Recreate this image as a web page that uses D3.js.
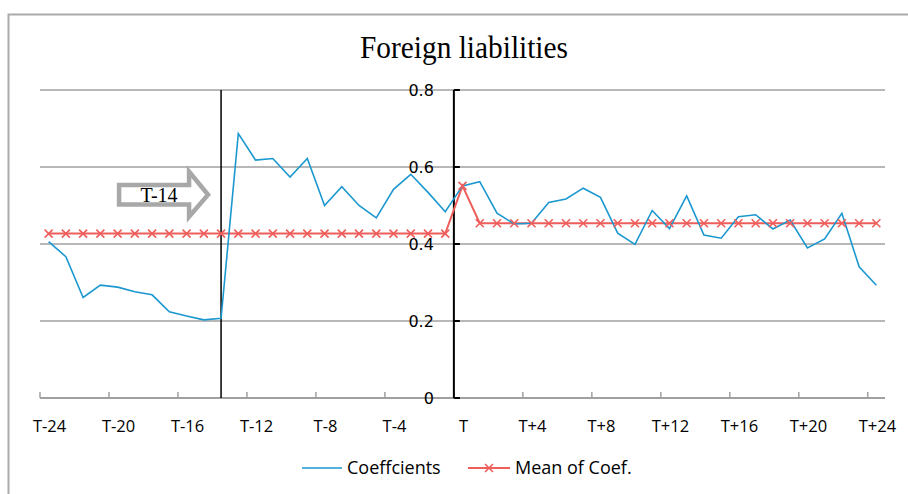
<!DOCTYPE html>
<html>
<head>
<meta charset="utf-8">
<script src="https://cdn.jsdelivr.net/npm/d3@7/dist/d3.min.js"></script>
<style>
  html, body { margin: 0; padding: 0; background: #fff; }
  svg { display: block; }
</style>
</head>
<body>
<svg id="chart" width="908" height="494"></svg>
<script>
// ---- data ----
const categories = [
  "T-24","T-23","T-22","T-21","T-20","T-19","T-18","T-17","T-16","T-15","T-14","T-13","T-12",
  "T-11","T-10","T-9","T-8","T-7","T-6","T-5","T-4","T-3","T-2","T-1","T",
  "T+1","T+2","T+3","T+4","T+5","T+6","T+7","T+8","T+9","T+10","T+11","T+12",
  "T+13","T+14","T+15","T+16","T+17","T+18","T+19","T+20","T+21","T+22","T+23","T+24"
];
const coefficients = [
  0.406,0.367,0.261,0.293,0.288,0.276,0.268,0.224,0.213,0.203,0.207,0.687,0.618,
  0.622,0.574,0.622,0.500,0.549,0.500,0.468,0.542,0.581,0.534,0.484,0.551,
  0.562,0.480,0.452,0.454,0.508,0.517,0.545,0.521,0.428,0.399,0.487,0.440,
  0.525,0.423,0.415,0.471,0.476,0.439,0.462,0.390,0.413,0.480,0.341,0.293
];
const meanOfCoef = [
  0.427,0.427,0.427,0.427,0.427,0.427,0.427,0.427,0.427,0.427,0.427,0.427,0.427,
  0.427,0.427,0.427,0.427,0.427,0.427,0.427,0.427,0.427,0.427,0.427,0.551,
  0.454,0.454,0.454,0.454,0.454,0.454,0.454,0.454,0.454,0.454,0.454,0.454,
  0.454,0.454,0.454,0.454,0.454,0.454,0.454,0.454,0.454,0.454,0.454,0.454
];
const tickLabels = ["T-24","T-20","T-16","T-12","T-8","T-4","T","T+4","T+8","T+12","T+16","T+20","T+24"];
const yTicks = [0, 0.2, 0.4, 0.6, 0.8];
const seriesNames = ["Coeffcients", "Mean of Coef."];
const titleText = "Foreign liabilities";
const eventLabel = "T-14";
const eventCategory = "T-14";
const axisCategory = "T";

// ---- layout ----
const svg = d3.select("#chart");
const blue = "#1B98CF", red = "#EE5E5B", grid = "#A0A0A0";
const x = d3.scaleBand().domain(categories).range([40, 885]).padding(0);
const y = d3.scaleLinear().domain([0, 0.8]).range([398, 90]);
const cx = c => x(c) + x.bandwidth() / 2;

// outer frame
svg.append("rect").attr("x", 8.5).attr("y", 14.5).attr("width", 1000).attr("height", 1000)
  .attr("fill", "none").attr("stroke", "#ABABAB").attr("stroke-width", 2);

// title
svg.append("text").attr("x", 464).attr("y", 58)
  .attr("text-anchor", "middle")
  .attr("font-family", "Liberation Serif, Times New Roman, serif")
  .attr("font-size", 31)
  .attr("textLength", 208).attr("lengthAdjust", "spacingAndGlyphs")
  .attr("fill", "#000").text(titleText);

// gridlines
svg.append("g").selectAll("line").data(yTicks.filter(d => d > 0)).join("line")
  .attr("x1", 40).attr("x2", 885)
  .attr("y1", d => y(d)).attr("y2", d => y(d))
  .attr("stroke", grid).attr("stroke-width", 1.5);

// x axis line & ticks (at category boundaries every 4)
svg.append("line").attr("x1", 40).attr("x2", 885).attr("y1", y(0)).attr("y2", y(0))
  .attr("stroke", grid).attr("stroke-width", 2);
const boundaryIdx = d3.range(0, categories.length, 4);
svg.append("g").selectAll("line").data(boundaryIdx).join("line")
  .attr("x1", i => x(categories[i])).attr("x2", i => x(categories[i]))
  .attr("y1", y(0)).attr("y2", y(0) - 6)
  .attr("stroke", grid).attr("stroke-width", 1.5);

// x tick labels
svg.append("g").selectAll("text").data(tickLabels).join("text")
  .attr("x", d => cx(d) + 1).attr("y", 432)
  .attr("text-anchor", "middle")
  .attr("font-family", "Open Sans, sans-serif").attr("font-size", 16.5)
  .attr("fill", "#000").text(d => d);

// vertical axis crossing between T-1 and T
const axX = x(axisCategory);
svg.append("line").attr("x1", axX).attr("x2", axX).attr("y1", y(0.8)).attr("y2", y(0))
  .attr("stroke", "#000").attr("stroke-width", 2);
svg.append("g").selectAll("line").data(yTicks).join("line")
  .attr("x1", axX).attr("x2", axX + 6)
  .attr("y1", d => y(d)).attr("y2", d => y(d))
  .attr("stroke", "#000").attr("stroke-width", 2);
svg.append("g").selectAll("text").data(yTicks).join("text")
  .attr("x", axX - 20).attr("y", d => y(d)).attr("dy", "0.36em")
  .attr("text-anchor", "end")
  .attr("font-family", "DejaVu Sans, sans-serif").attr("font-size", 16)
  .attr("fill", "#000").text(d => d === 0 ? "0" : d.toFixed(1));

// event line at T-14
const evX = cx(eventCategory);
svg.append("line").attr("x1", evX).attr("x2", evX).attr("y1", y(0.8)).attr("y2", y(0))
  .attr("stroke", "#000").attr("stroke-width", 1.5);

// arrow annotation
const ax0 = evX - 102, tip = evX - 13, headBase = evX - 32, cy = 194.8;
const arrowPath = `M${ax0},${cy - 9.8} L${headBase},${cy - 9.8} L${headBase},${cy - 23.3} L${tip},${cy} L${headBase},${cy + 22} L${headBase},${cy + 9.7} L${ax0},${cy + 9.7} Z`;
svg.append("path").attr("d", arrowPath).attr("fill", "#fff")
  .attr("stroke", "#A8A8A8").attr("stroke-width", 4.5).attr("stroke-linejoin", "miter");
svg.append("text").attr("x", evX - 62).attr("y", 201.5).attr("text-anchor", "middle")
  .attr("font-family", "Liberation Serif, Times New Roman, serif").attr("font-size", 20)
  .attr("fill", "#000").text(eventLabel);

// series
const line = d3.line().x((d, i) => cx(categories[i])).y(d => y(d));
svg.append("path").datum(meanOfCoef).attr("d", line)
  .attr("fill", "none").attr("stroke", red).attr("stroke-width", 2);
svg.append("path").datum(coefficients).attr("d", line)
  .attr("fill", "none").attr("stroke", blue).attr("stroke-width", 1.6);

// x markers
const s = 4;
const xMark = (px, py) => `M${px - s},${py - s}L${px + s},${py + s}M${px - s},${py + s}L${px + s},${py - s}`;
svg.append("g").selectAll("path").data(meanOfCoef).join("path")
  .attr("d", (d, i) => xMark(cx(categories[i]), y(d)))
  .attr("stroke", red).attr("stroke-width", 1.6).attr("fill", "none");

// legend
const lg = svg.append("g").attr("font-family", "Open Sans, sans-serif").attr("font-size", 18);
lg.append("line").attr("x1", 302).attr("x2", 342).attr("y1", 468).attr("y2", 468)
  .attr("stroke", blue).attr("stroke-width", 1.6);
lg.append("text").attr("x", 347).attr("y", 474).attr("fill", "#000").text(seriesNames[0]);
lg.append("line").attr("x1", 468).attr("x2", 510).attr("y1", 468).attr("y2", 468)
  .attr("stroke", red).attr("stroke-width", 2);
lg.append("path").attr("d", xMark(489, 468)).attr("stroke", red).attr("stroke-width", 1.6);
lg.append("text").attr("x", 515).attr("y", 474).attr("fill", "#000").text(seriesNames[1]);
</script>
</body>
</html>
